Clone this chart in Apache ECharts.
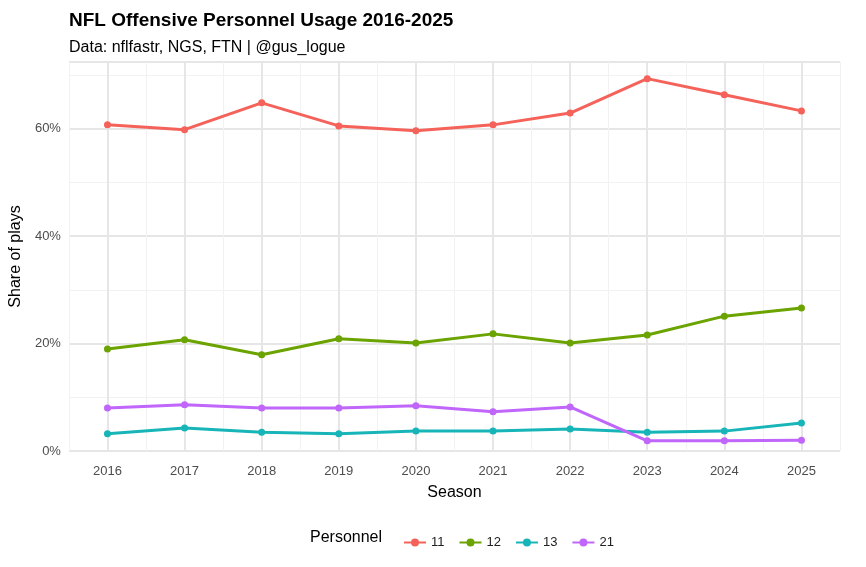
<!DOCTYPE html>
<html><head><meta charset="utf-8">
<script src="https://cdn.jsdelivr.net/npm/echarts@6/dist/echarts.min.js"></script>
<style>body{margin:0;background:#fff}#main{width:866px;height:567px}</style>
</head><body><div id="main"></div>
<script>
var seasons = [2016, 2017, 2018, 2019, 2020, 2021, 2022, 2023, 2024, 2025];
var p11 = [60.7, 59.8, 64.8, 60.5, 59.6, 60.7, 62.9, 69.3, 66.3, 63.3];
var p12 = [19.0, 20.7, 17.9, 20.9, 20.1, 21.8, 20.1, 21.6, 25.1, 26.6];
var p13 = [3.2, 4.3, 3.5, 3.2, 3.7, 3.7, 4.1, 3.5, 3.7, 5.2];
var p21 = [8.0, 8.6, 8.0, 8.0, 8.4, 7.3, 8.2, 1.9, 1.9, 2.0];
var names = ['11', '12', '13', '21'];
var colors = ['#F5625A', '#6BA300', '#17B5B8', '#C066FA'];

var font = 'Liberation Sans, Arial, sans-serif';
var chart = echarts.init(document.getElementById('main'));
var pair = function (vals) { return seasons.map(function (s, i) { return [s, vals[i]]; }); };
var series = [p11, p12, p13, p21].map(function (vals, i) {
    return {
        name: names[i], type: 'line', data: pair(vals), symbol: 'circle', symbolSize: 7, z: 3,
        lineStyle: { width: 3, color: colors[i] }, itemStyle: { color: colors[i] }
    };
});
// major vertical grid lines at each season
series[0].markLine = {
    silent: true, symbol: 'none', label: { show: false }, z: 1,
    lineStyle: { color: '#e6e6e6', width: 2, type: 'solid' },
    data: seasons.map(function (s) { return { xAxis: s }; })
};
chart.setOption({
    animation: false,
    textStyle: { fontFamily: font },
    title: [
        { text: 'NFL Offensive Personnel Usage 2016-2025', left: 64, top: 6,
          textStyle: { fontSize: 19, fontWeight: 'bold', color: '#000', fontFamily: font } },
        { text: 'Data: nflfastr, NGS, FTN | @gus_logue', left: 64, top: 35,
          textStyle: { fontSize: 16, fontWeight: 'normal', color: '#000', fontFamily: font } }
    ],
    graphic: [{ type: 'text', left: 310, top: 530, style: { text: 'Personnel', fontSize: 16, fill: '#000', fontFamily: font } }],
    legend: { left: 398, top: 531, itemWidth: 22, itemHeight: 10, itemGap: 14,
        textStyle: { fontSize: 13, color: '#222' }, data: names },
    color: colors,
    grid: { left: 62, right: 26, top: 62, bottom: 116 },
    xAxis: {
        type: 'value', min: 2015.5, max: 2025.5, interval: 0.5,
        name: 'Season', nameLocation: 'middle', nameGap: 34,
        nameTextStyle: { fontSize: 16, color: '#000' },
        axisLine: { show: false }, axisTick: { show: false },
        axisLabel: { color: '#4d4d4d', fontSize: 13, margin: 14,
            formatter: function (v) { return Number.isInteger(v) ? String(v) : ''; } },
        splitLine: { lineStyle: { color: '#f2f2f2', width: 1 } }
    },
    yAxis: {
        type: 'value', min: 0, max: 72.4, interval: 20,
        name: 'Share of plays', nameLocation: 'middle', nameGap: 40,
        nameTextStyle: { fontSize: 16, color: '#000' },
        axisLine: { show: false }, axisTick: { show: false },
        axisLabel: { color: '#4d4d4d', fontSize: 13, showMaxLabel: false,
            formatter: function (v) { return v % 20 === 0 ? v + '%' : ''; } },
        splitLine: { lineStyle: { color: '#e6e6e6', width: 2 } },
        minorTick: { show: false, splitNumber: 2 },
        minorSplitLine: { show: true, lineStyle: { color: '#f2f2f2', width: 1 } }
    },
    series: series
});
</script></body></html>
